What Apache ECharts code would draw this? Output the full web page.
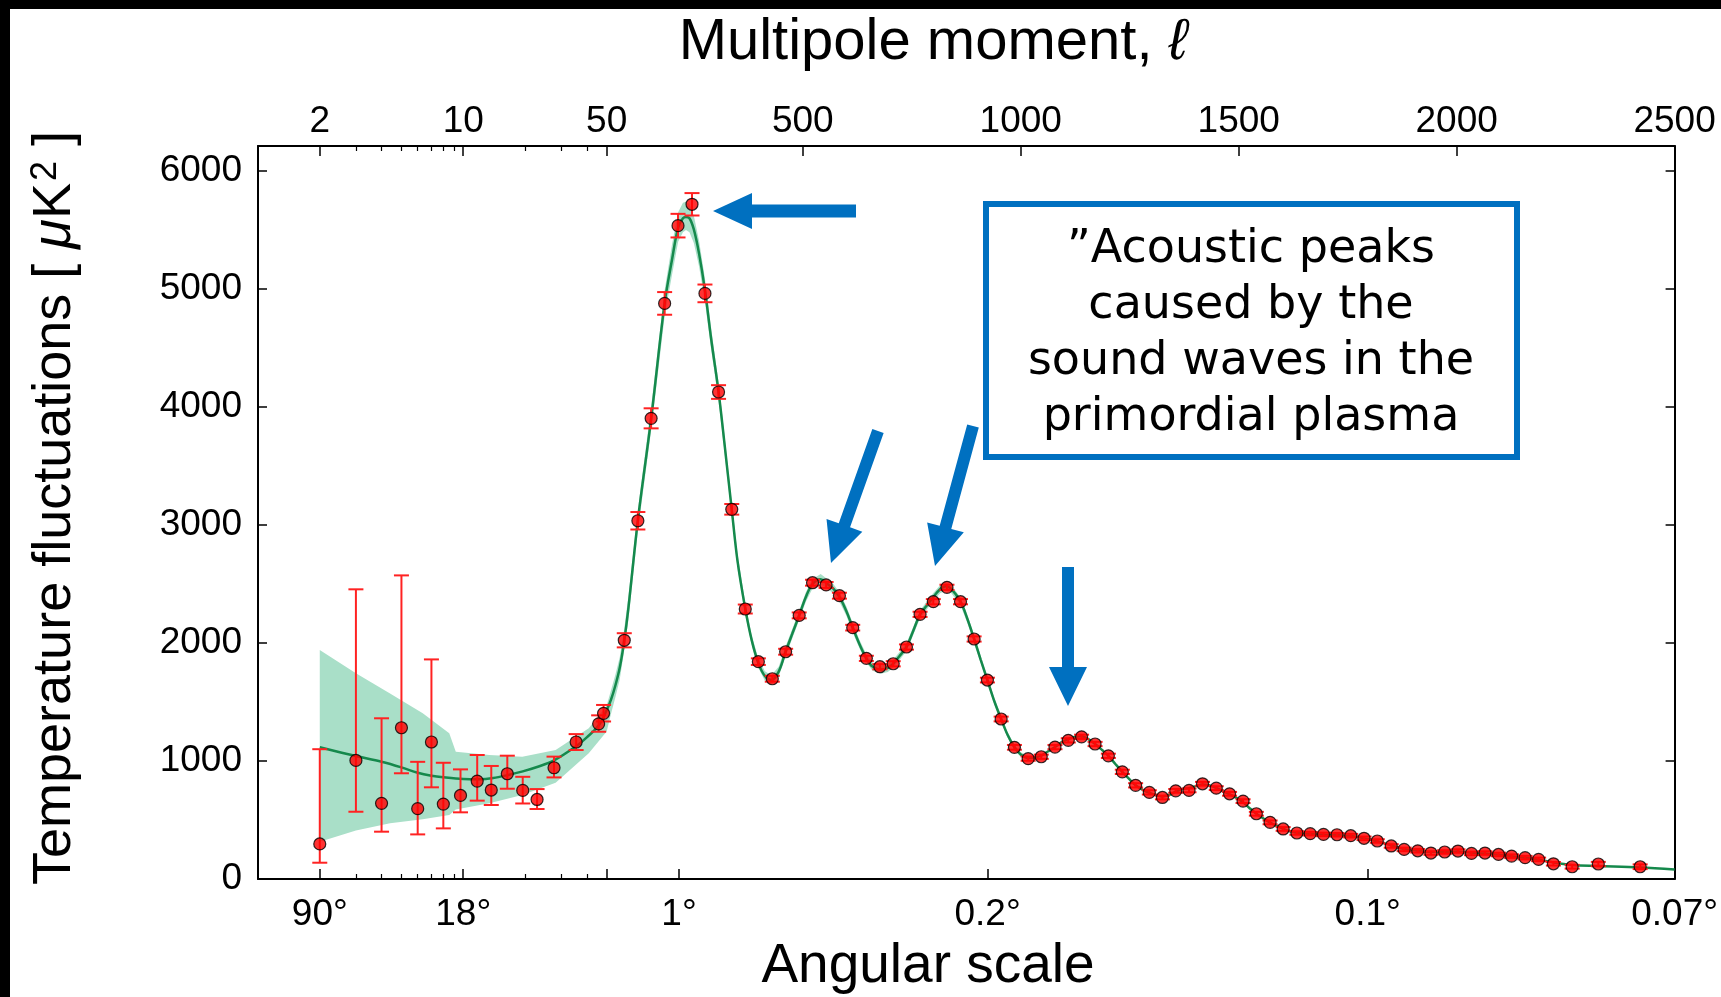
<!DOCTYPE html>
<html><head><meta charset="utf-8">
<script src="https://cdn.jsdelivr.net/npm/echarts@6/dist/echarts.min.js"></script>
<style>html,body{margin:0;padding:0;background:#fff}#c{width:1721px;height:997px}</style>
</head><body><div id="c"></div>
<script>
// ---------------- data ----------------
// measured band powers: multipole, D_ell [muK^2], lower / upper error
const obsEll = [2,3,4,5,6,7,8,9.7,11.7,13.7,16.4,19.5,22.9,27.7,35.5,45.7,48.3,
  90.4,121.6,152,183,213.7,245.8,275.5,306.7,337,368,398,430,460.6,491.7,522.3,553.4,584,614.5,645.8,676.8,
  707.4,737.8,769,799.4,830.7,861.8,893,923.5,955,985.5,1017,1047,1078.5,1109,1139.5,1170.5,1201,1233,1263.5,1295,
  1325,1355.5,1386,1417,1448.5,1479,1510,1540.5,1572,1602,1633.5,1664,1694.5,1725.5,1757,1787.5,1818,1850,1879.5,1910.7,
  1941,1972.5,2003,2034,2065,2096,2126,2157,2188,2222,2265,2325,2421];
const obsD = [297,1005,641,1282,596,1161,635,708,830,754,892,751,674,943,1161,1315,1404,
  2023,3036,3904,4878,5537,5718,4963,4127,3133,2288,1842,1697,1926,2234,2511,2492,2401,2130,1870,1799,
  1824,1966,2243,2350,2472,2350,2034,1686,1356,1116,1020,1036,1118,1175,1205,1144,1044,908,794,734,
  691,747,751,807,770,722,660,553,480,424,390,384,378,375,367,345,322,280,251,239,
  220,229,237,217,220,208,194,181,166,129,104,127,104];
const obsErrMinus = [159,435,240,386,218,384,206,143,166,127,127,111,81,82,68,67,69,
  60,74,85,96,100,95,75,58,45,38,28,25,25,25,25,25,25,24,22,22,
  22,22,22,22,22,22,22,20,20,20,18,18,18,18,18,18,18,18,18,18,
  16,16,16,16,16,16,16,16,16,16,15,15,15,15,15,15,15,15,15,15,
  15,15,15,15,15,15,15,15,15,15,16,18,20];
const obsErrPlus = [803,1450,721,1291,397,700,350,221,221,204,153,115,88,94,67,72,71,
  60,74,85,96,100,95,75,58,45,38,28,25,25,25,25,25,25,24,22,22,
  22,22,22,22,22,22,22,20,20,20,18,18,18,18,18,18,18,18,18,18,
  16,16,16,16,16,16,16,16,16,16,15,15,15,15,15,15,15,15,15,15,
  15,15,15,15,15,15,15,15,15,15,16,18,20];

// best-fit model curve
const curveEll = [2,3,4,5,6,7,8,10,12,14,16.4,19.5,22.9,27.7,35.5,40,45.7,50,60,70,80,90,100,121.6,152,183,200,214,225,232,240,250,262,275.5,290,306.7,320,337,350,368,383,398,413,428,445,460.6,476,491.7,507,522.3,541,553.4,570,584,600,614.5,630,645.8,660,679,695,707,722,737.8,753,769,785,799.4,815,827.5,840,861.8,877,893,908,923.5,940,955,970,985.5,1000,1017,1032,1047,1062,1078.5,1094,1109,1125,1139.5,1155,1170.5,1186,1201,1217,1233,1248,1263.5,1280,1295,1310,1325,1340,1355.5,1370,1386,1400,1417,1432,1448.5,1463,1479,1494,1510,1525,1540.5,1556,1572,1587,1602,1618,1633.5,1664,1694.5,1725.5,1757,1787.5,1818,1850,1879.5,1910,1941,1972,2003,2034,2065,2096,2126,2157,2188,2222,2265,2325,2421,2500];
const curveD = [1116,1042,994,946,900,875,862,848,846,856,880,912,949,1005,1125,1200,1300,1430,1520,1640,1790,2010,2300,3040,3900,4880,5250,5520,5600,5610,5600,5505,5300,4990,4570,4130,3700,3130,2700,2290,2020,1830,1720,1686,1760,1926,2080,2234,2390,2500,2540,2510,2460,2390,2270,2130,1990,1870,1800,1775,1790,1824,1890,1966,2100,2243,2320,2390,2455,2480,2460,2350,2210,2034,1860,1686,1500,1356,1220,1116,1055,1025,1030,1045,1080,1118,1160,1185,1205,1210,1185,1144,1095,1044,975,908,850,794,755,730,712,700,712,740,762,770,785,800,795,772,745,718,690,650,600,553,515,478,450,425,405,392,382,376,372,364,346,320,285,255,240,228,228,232,222,216,206,194,180,163,140,118,110,98,81];

// shaded uncertainty band around the model
const bandEll = [2,3,4.4,6.35,8.55,9.2,13.4,19.4,28.2,40.9,50,60,70,80,90,100,121.6,152,183,200,214,225,232,240,250,262,275.5,290,306.7,320,337,350,368,383,398,413,428,445,460,476,491.7,507,522,541,553,570,584,600,614.5,630,645.8,660,679,695,707,722,738,753,769,785,799.4,815,827.5,840,862,877,893,908,923.5,940,955,970,985.5,1000,1017];
const bandLo = [316,410,472,506,542,590,641,712,816,1065,1250,1400,1540,1690,1930,2200,2950,3800,4770,5120,5400,5480,5500,5480,5390,5190,4890,4480,4050,3630,3070,2640,2240,1980,1790,1680,1645,1720,1886,2040,2194,2350,2460,2495,2470,2420,2350,2230,2090,1955,1835,1765,1740,1755,1790,1856,1932,2066,2209,2286,2356,2421,2446,2426,2316,2176,2000,1830,1656,1472,1330,1196,1094,1035,1007];
const bandHi = [1941,1743,1573,1404,1235,1079,1051,1037,1093,1277,1470,1600,1730,1880,2110,2400,3130,4000,4990,5380,5650,5730,5740,5720,5620,5410,5090,4660,4210,3770,3190,2760,2340,2060,1870,1760,1727,1800,1966,2120,2274,2430,2540,2585,2550,2500,2430,2310,2170,2025,1905,1835,1810,1825,1858,1924,2000,2134,2277,2354,2424,2489,2514,2494,2384,2244,2068,1890,1716,1528,1382,1244,1138,1075,1043];

// axis ticks / labels
const topMajorEll = [2,10,50,500,1000,1500,2000,2500];
const topLabels = ['2','10','50','500','1000','1500','2000','2500'];
const minorEll = [3,4,5,6,7,8,9,20,30,40];
const bottomMajorEll = [2,10,50,216,924,1796,2500];
const bottomLabelEll = [2,10,216,924,1796,2500];
const bottomLabels = ['90°','18°','1°','0.2°','0.1°','0.07°'];
const yTicks = [0,1000,2000,3000,4000,5000,6000];

// ---------------- axis transform: log below ell=50, linear above ----------------
const LOG_SPAN = 470.8;
function u(ell){ return ell >= 50 ? ell : 50 + LOG_SPAN * Math.log10(ell / 50); }
const X_MIN = u(1), X_MAX = 2500;

const FONT = "'Liberation Sans', Arial, sans-serif";
const TICK_FS = 37;
function labelFor(vals, labels){
  return function(v){
    let best = 0, bd = Infinity;
    vals.forEach((e,i)=>{ const d = Math.abs(u(e) - v); if (d < bd){ bd = d; best = i; } });
    return labels[best];
  };
}
const axisLineStyle = {show:true, onZero:false, lineStyle:{color:'#000', width:2}};

function arrowPoints(t0, t1, w, hl, hw){
  const dx = t1[0]-t0[0], dy = t1[1]-t0[1], L = Math.hypot(dx,dy);
  const ux = dx/L, uy = dy/L, nx = -uy, ny = ux;
  const bx = t1[0]-ux*hl, by = t1[1]-uy*hl;
  return [[t0[0]+nx*w,t0[1]+ny*w],[bx+nx*w,by+ny*w],[bx+nx*hw,by+ny*hw],t1,
          [bx-nx*hw,by-ny*hw],[bx-nx*w,by-ny*w],[t0[0]-nx*w,t0[1]-ny*w]];
}
const BLUE = '#0070c0';

const chart = echarts.init(document.getElementById('c'), null, {renderer:'canvas'});
chart.setOption({
  animation:false,
  backgroundColor:'#fff',
  grid:{left:258, right:41, top:146, bottom:118, containLabel:false},
  xAxis:[
    {type:'value', min:X_MIN, max:X_MAX, position:'bottom', axisLine:axisLineStyle,
     axisTick:{show:true, inside:true, length:10, customValues:bottomMajorEll.map(u), lineStyle:{color:'#000', width:1.5}},
     axisLabel:{customValues:bottomLabelEll.map(u), formatter:labelFor(bottomLabelEll,bottomLabels),
       fontFamily:FONT, fontSize:TICK_FS, color:'#000', margin:17},
     splitLine:{show:false}},
    {type:'value', min:X_MIN, max:X_MAX, position:'top', axisLine:axisLineStyle,
     axisTick:{show:true, inside:true, length:10, customValues:topMajorEll.map(u), lineStyle:{color:'#000', width:1.5}},
     axisLabel:{customValues:topMajorEll.map(u), formatter:labelFor(topMajorEll,topLabels),
       fontFamily:FONT, fontSize:TICK_FS, color:'#000', margin:6},
     splitLine:{show:false}},
    {type:'value', min:X_MIN, max:X_MAX, position:'top', axisLine:{show:false, onZero:false},
     axisTick:{show:true, inside:true, length:5, customValues:minorEll.map(u), lineStyle:{color:'#000', width:1.2}},
     axisLabel:{show:false}, splitLine:{show:false}},
    {type:'value', min:X_MIN, max:X_MAX, position:'bottom', axisLine:{show:false, onZero:false},
     axisTick:{show:true, inside:true, length:5, customValues:minorEll.map(u), lineStyle:{color:'#000', width:1.2}},
     axisLabel:{show:false}, splitLine:{show:false}}
  ],
  yAxis:[
    {type:'value', min:0, max:6212, position:'left', axisLine:axisLineStyle,
     axisTick:{show:true, inside:true, length:9, customValues:yTicks, lineStyle:{color:'#000', width:1.5}},
     axisLabel:{customValues:yTicks, formatter:v=>String(v), fontFamily:FONT, fontSize:TICK_FS, color:'#000', margin:16},
     splitLine:{show:false}},
    {type:'value', min:0, max:6212, position:'right', axisLine:axisLineStyle,
     axisTick:{show:true, inside:true, length:9, customValues:yTicks, lineStyle:{color:'#000', width:1.5}},
     axisLabel:{show:false}, splitLine:{show:false}}
  ],
  series:[
    {type:'custom', name:'band', xAxisIndex:0, yAxisIndex:0, z:1, silent:true,
     data: bandEll.map((e,i)=>[u(e), bandLo[i], bandHi[i]]),
     encode:{x:0, y:[1,2]},
     renderItem:function(params, api){
       if (params.dataIndex !== 0) return null;
       const pts = [];
       for (let i=0;i<bandEll.length;i++) pts.push(api.coord([u(bandEll[i]), bandHi[i]]));
       for (let i=bandEll.length-1;i>=0;i--) pts.push(api.coord([u(bandEll[i]), bandLo[i]]));
       return {type:'polygon', shape:{points:pts}, style:{fill:'#a9dfc8', stroke:null}};
     }},
    {type:'line', name:'model', xAxisIndex:0, yAxisIndex:0, z:2, silent:true,
     data: curveEll.map((e,i)=>[u(e), curveD[i]]),
     showSymbol:false, smooth:0.35,
     lineStyle:{color:'#15894c', width:2.5}},
    {type:'custom', name:'errors', xAxisIndex:0, yAxisIndex:0, z:3, silent:true,
     data: obsEll.map((e,i)=>[u(e), obsD[i]-obsErrMinus[i], obsD[i]+obsErrPlus[i]]),
     encode:{x:0, y:[1,2]},
     renderItem:function(params, api){
       const x = api.value(0);
       const p1 = api.coord([x, api.value(1)]), p2 = api.coord([x, api.value(2)]);
       const cw = 7.5, st = {stroke:'#ff2222', lineWidth:2};
       return {type:'group', children:[
         {type:'line', shape:{x1:p1[0],y1:p1[1],x2:p2[0],y2:p2[1]}, style:st},
         {type:'line', shape:{x1:p1[0]-cw,y1:p1[1],x2:p1[0]+cw,y2:p1[1]}, style:st},
         {type:'line', shape:{x1:p2[0]-cw,y1:p2[1],x2:p2[0]+cw,y2:p2[1]}, style:st}
       ]};
     }},
    {type:'scatter', name:'data', xAxisIndex:0, yAxisIndex:0, z:4, silent:true,
     data: obsEll.map((e,i)=>[u(e), obsD[i]]),
     symbol:'circle', symbolSize:12,
     itemStyle:{color:'#ff0000', borderColor:'#000', borderWidth:1.2}}
  ],
  graphic:[
    {type:'rect', shape:{x:0,y:0,width:1721,height:9}, style:{fill:'#000'}, z:100},
    {type:'rect', shape:{x:0,y:0,width:10,height:997}, style:{fill:'#000'}, z:100},
    {type:'text', x:933, y:43, z:100, style:{text:'Multipole moment, {l|ℓ}', fontFamily:FONT, fontSize:58,
      fill:'#000', align:'center', verticalAlign:'middle', textAlign:'center', textVerticalAlign:'middle',
      rich:{l:{fontFamily:FONT, fontSize:58, fontStyle:'italic', fill:'#000'}}}},
    {type:'text', x:928, y:967, z:100, style:{text:'Angular scale', fontFamily:FONT, fontSize:55,
      fill:'#000', align:'center', verticalAlign:'middle', textAlign:'center', textVerticalAlign:'middle'}},
    {type:'text', x:55, y:508, rotation:Math.PI/2, z:100, style:{
      text:'Temperature fluctuations [ {mu|μ}K{sup|2} ]', fontFamily:FONT, fontSize:54, fill:'#000',
      align:'center', verticalAlign:'middle', textAlign:'center', textVerticalAlign:'middle',
      rich:{mu:{fontFamily:FONT, fontSize:54, fontStyle:'italic', fill:'#000'},
            sup:{fontFamily:FONT, fontSize:36, fill:'#000', verticalAlign:'top', padding:[0,0,0,2]}}}},
    {type:'rect', z:100, shape:{x:986,y:204,width:531,height:253}, style:{fill:'#fff', stroke:BLUE, lineWidth:6}},
    {type:'text', x:1251, y:334, z:101, style:{text:'”Acoustic peaks\ncaused by the\nsound waves in the\nprimordial plasma',
      fontFamily:"'DejaVu Sans', sans-serif", fontSize:46, lineHeight:56, fill:'#000',
      align:'center', verticalAlign:'middle', textAlign:'center', textVerticalAlign:'middle'}},
    {type:'polygon', z:100, shape:{points:arrowPoints([856,211],[713,211],6.5,39,18)}, style:{fill:BLUE}},
    {type:'polygon', z:100, shape:{points:arrowPoints([878,431],[831,563],6,40,19)}, style:{fill:BLUE}},
    {type:'polygon', z:100, shape:{points:arrowPoints([973,426],[935,566],6,40,19)}, style:{fill:BLUE}},
    {type:'polygon', z:100, shape:{points:arrowPoints([1068,567],[1068,706],6,39,19)}, style:{fill:BLUE}}
  ]
});
</script>
</body></html>
